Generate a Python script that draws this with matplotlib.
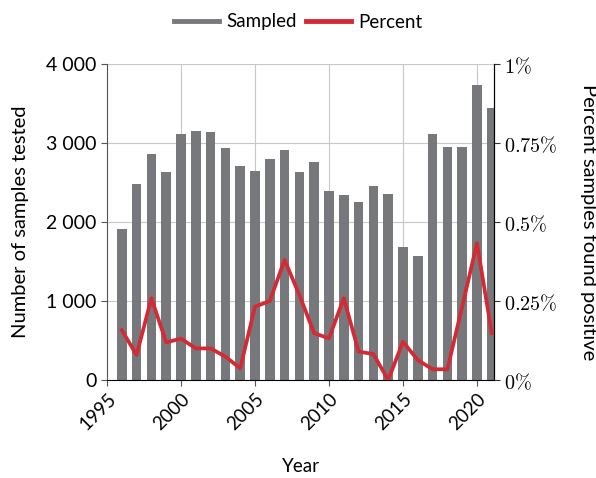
import numpy as np
import matplotlib.pyplot as plt
from matplotlib.ticker import FuncFormatter

years = list(range(1996, 2022))
sampled = [1913, 2475, 2864, 2631, 3117, 3151, 3138, 2931, 2712, 2648,
           2796, 2910, 2636, 2758, 2391, 2340, 2256, 2458, 2353, 1681,
           1571, 3113, 2953, 2944, 3730, 3442]
percent = [0.158, 0.079, 0.259, 0.119, 0.131, 0.100, 0.100, 0.074, 0.037, 0.232,
           0.250, 0.380, 0.269, 0.148, 0.132, 0.259, 0.090, 0.082, 0.0, 0.121,
           0.063, 0.034, 0.034, 0.232, 0.433, 0.148]
x_ticks = [1995, 2000, 2005, 2010, 2015, 2020]
left_ticks = [0, 1000, 2000, 3000, 4000]
right_ticks = [0, 0.25, 0.5, 0.75, 1.0]
right_labels = [r'$0\%$', r'$0.25\%$', r'$0.5\%$', r'$0.75\%$', r'$1\%$']

plt.rcParams['font.family'] = ['Lato', 'DejaVu Sans']
plt.rcParams['mathtext.fontset'] = 'cm'

gray = '#77787b'
red = '#d42a35'

fig = plt.figure(figsize=(5.96, 4.78), dpi=100)
ax = fig.add_axes([107 / 596, 1 - 380 / 478, (494 - 107) / 596, (380 - 64) / 478])
ax2 = ax.twinx()

ax.bar(years, sampled, width=0.65, color=gray, zorder=2, label='Sampled')
ax2.plot(years, percent, color=red, lw=2.7, zorder=3, label='Percent')

ax.set_xlim(1995, 2021.15)
ax.set_ylim(0, 4000)
ax2.set_ylim(0, 1)

ax.set_xticks(x_ticks)
ax.set_xticklabels([str(t) for t in x_ticks], rotation=45, ha='right',
                   rotation_mode='anchor', fontsize=13.5)
ax.set_yticks(left_ticks)
ax.yaxis.set_major_formatter(FuncFormatter(lambda v, p: f'{int(v):,}'.replace(',', ' ')))
ax.tick_params(axis='y', labelsize=14, length=4, color='#555555')
ax.tick_params(axis='x', length=4, color='#555555')
ax2.set_yticks(right_ticks)
ax2.set_yticklabels(right_labels, fontsize=14.5)
ax2.tick_params(axis='y', length=4, color='#333333')

ax.grid(True, color='#c8c8c8', lw=0.8, zorder=0)
ax.set_axisbelow(True)
ax.spines['top'].set_visible(False)
ax2.spines['top'].set_visible(False)
ax.spines['left'].set_color('#555555')
ax.spines['bottom'].set_color('black')
ax2.spines['left'].set_visible(False)
ax2.spines['bottom'].set_visible(False)
ax2.spines['right'].set_color('black')

ax.set_xlabel('Year', fontsize=13.5, labelpad=18)
ax.set_ylabel('Number of samples tested', fontsize=14.5, labelpad=12)
ax2.set_ylabel('Percent samples found positive', fontsize=14.5, rotation=270, labelpad=28)

handles = [plt.Line2D([], [], color=gray, lw=3.5), plt.Line2D([], [], color=red, lw=3.5)]
fig.legend(handles, ['Sampled', 'Percent'], loc='center', bbox_to_anchor=(0.5, 1 - 22 / 478),
           ncol=2, frameon=False, fontsize=13.5, handlelength=2.4, handletextpad=0.4,
           columnspacing=0.5)

fig.savefig('out.png', dpi=100)
